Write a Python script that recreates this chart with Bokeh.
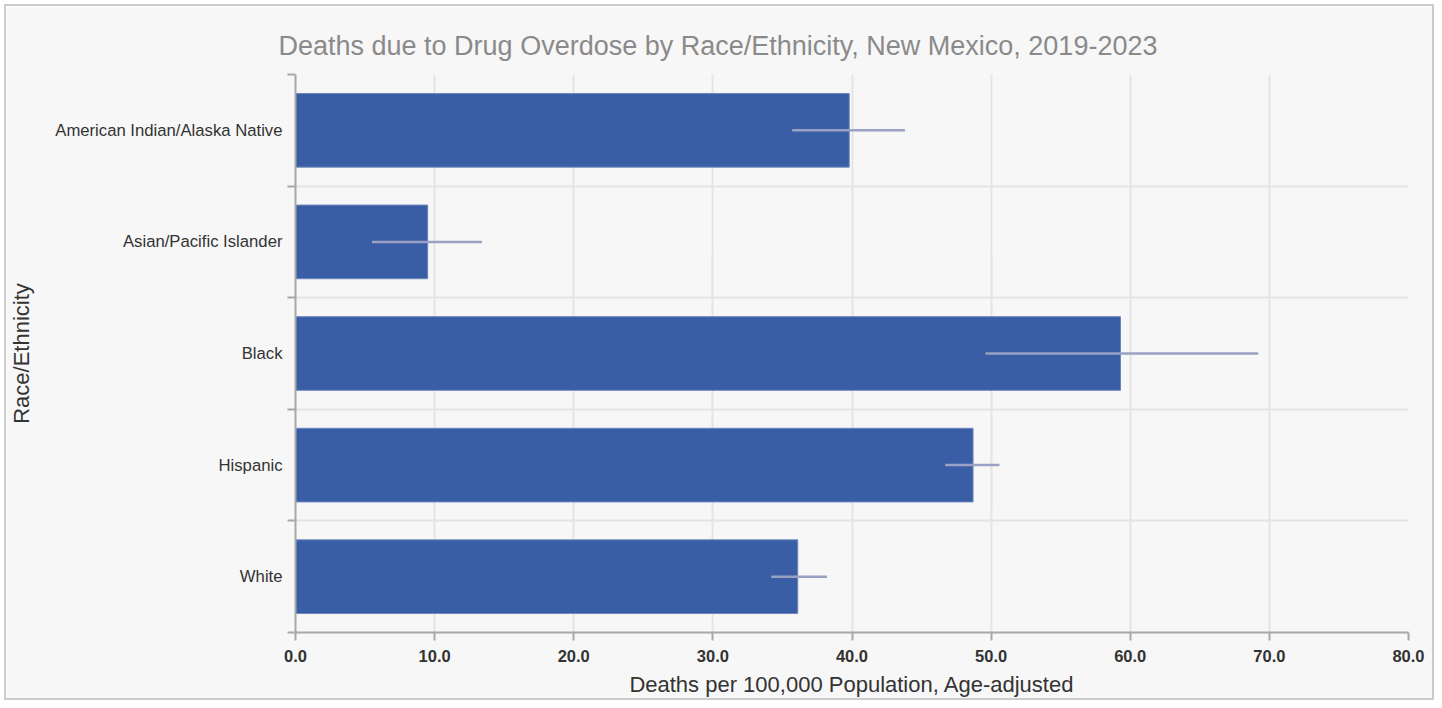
from bokeh.plotting import figure
from bokeh.models import (ColumnDataSource, Range1d, FixedTicker, NumeralTickFormatter,
                          Whisker, Title)
from bokeh.embed import file_html
from bokeh.resources import INLINE

# ---- data ----
categories = ["American Indian/Alaska Native", "Asian/Pacific Islander", "Black", "Hispanic", "White"]
rates = [39.8, 9.5, 59.3, 48.7, 36.1]
lower_ci = [35.7, 5.5, 49.6, 46.7, 34.2]
upper_ci = [43.8, 13.4, 69.2, 50.6, 38.2]
x_ticks = [0, 10, 20, 30, 40, 50, 60, 70, 80]

title_text = "Deaths due to Drug Overdose by Race/Ethnicity, New Mexico, 2019-2023"
x_title = "Deaths per 100,000 Population, Age-adjusted"
y_title = "Race/Ethnicity"

n = len(categories)
# first category at top
ypos = [n - i - 0.5 for i in range(n)]
boundaries = list(range(n + 1))

src = ColumnDataSource(dict(cat=categories, y=ypos, rate=rates, lo=lower_ci, hi=upper_ci))

FONT = "Liberation Sans"
BG = "#f7f7f7"

p = figure(width=1430, height=696, output_backend="svg", toolbar_location=None,
           x_range=Range1d(0, 80), y_range=Range1d(0, n),
           min_border_left=281, min_border_right=28, min_border_top=68, min_border_bottom=70,
           background_fill_color=BG, border_fill_color=BG, outline_line_color=None)
p.styles = {"border": "2px solid #cccccc", "box-sizing": "border-box",
            "margin-left": "4px", "margin-top": "4px"}

p.title = Title(text=title_text, align="left", offset=-17, standoff=28, text_font=FONT,
                text_font_size="27px", text_font_style="normal", text_color="#8a8a8a")

p.hbar(y="y", right="rate", left=0, height=0.66, source=src,
       fill_color="#3a5ea6", line_color="#6f86bd", line_width=1)

p.add_layout(Whisker(dimension="width", base="y", lower="lo", upper="hi", source=src,
                     line_color="#9aa1c4", line_width=2.5, level="overlay",
                     lower_head=None, upper_head=None))

# x axis
xa = p.xaxis[0]
xa.ticker = FixedTicker(ticks=x_ticks)
xa.formatter = NumeralTickFormatter(format="0.0")
xa.axis_label = x_title
xa.axis_label_text_font = FONT
xa.axis_label_text_font_size = "22px"
xa.axis_label_text_font_style = "normal"
xa.axis_label_text_color = "#333333"
xa.axis_label_standoff = 7
xa.major_label_text_font = FONT
xa.major_label_text_font_size = "16.5px"
xa.major_label_text_font_style = "bold"
xa.major_label_text_color = "#333333"
xa.major_label_standoff = 9
xa.major_tick_in = 0
xa.major_tick_out = 8
xa.minor_tick_out = 0
xa.minor_tick_in = 0
xa.axis_line_color = "#a8a8a8"
xa.axis_line_width = 2
xa.major_tick_line_color = "#a8a8a8"
xa.major_tick_line_width = 2

# y axis: labels at band centers, tick marks at band boundaries
ya = p.yaxis[0]
ya.ticker = FixedTicker(ticks=ypos, minor_ticks=boundaries)
ya.major_label_overrides = {y: c for y, c in zip(ypos, categories)}
ya.axis_label = y_title
ya.axis_label_text_font = FONT
ya.axis_label_text_font_size = "22px"
ya.axis_label_text_font_style = "normal"
ya.axis_label_text_color = "#333333"
ya.axis_label_standoff = 18
ya.major_label_text_font = FONT
ya.major_label_text_font_size = "16.7px"
ya.major_label_text_color = "#333333"
ya.major_label_standoff = 5
ya.major_tick_in = 0
ya.major_tick_out = 0
ya.minor_tick_in = 0
ya.minor_tick_out = 8
ya.minor_tick_line_color = "#a8a8a8"
ya.minor_tick_line_width = 2
ya.axis_line_color = "#a8a8a8"
ya.axis_line_width = 2

# grids
p.xgrid.ticker = FixedTicker(ticks=x_ticks)
p.xgrid.grid_line_color = "#e4e4e4"
p.xgrid.grid_line_width = 2
p.ygrid.ticker = FixedTicker(ticks=boundaries)
p.ygrid.grid_line_color = "#e4e4e4"
p.ygrid.grid_line_width = 2

open("out.html", "w").write(file_html(p, INLINE))
